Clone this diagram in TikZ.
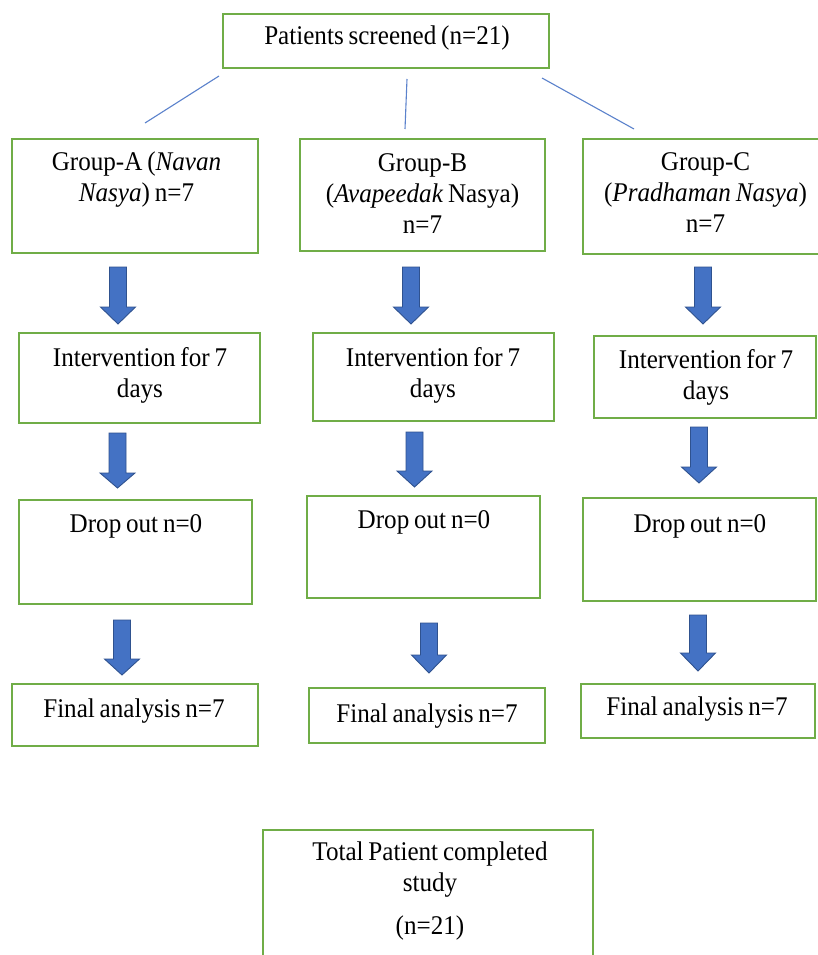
\documentclass[tikz,border=0pt]{standalone}
\usepackage{fontspec}
\setmainfont{Liberation Serif}[FakeStretch=0.93]
\definecolor{boxgreen}{HTML}{70AD47}
\definecolor{arrfill}{HTML}{4472C4}
\definecolor{arrdraw}{HTML}{2F528F}
\definecolor{linkblue}{HTML}{5B82CC}
\newcommand{\blockdownarrow}[4]{%
  % #1 = x centre, #2 = shaft top, #3 = head start, #4 = tip
  \draw[blockarr] (#1-8.5,#2) -- (#1+8.5,#2) -- (#1+8.5,#3) -- (#1+17.5,#3)
    -- (#1,#4) -- (#1-17.5,#3) -- (#1-8.5,#3) -- cycle;}
\newcommand{\tightspaces}{\spaceskip=4.8pt\relax}
\begin{document}
\begin{tikzpicture}[x=1pt,y=-1pt,
  box/.style={draw=boxgreen, line width=1.5pt, rectangle, inner sep=0pt, outer sep=0pt},
  txt/.style={align=center, anchor=base, inner sep=0pt, text width=300pt,
    font=\fontsize{27}{31}\selectfont, execute at begin node=\tightspaces},
  link/.style={draw=linkblue, line width=1.1pt},
  blockarr/.style={fill=arrfill, draw=arrdraw, line width=0.9pt, line join=miter}]
\path[use as bounding box, clip] (0,0) rectangle (818,955);
\fill[white] (0,0) rectangle (818,955);

% boxes
\node[box, minimum width=326, minimum height=54] (top) at (386,41) {};
\node[box, minimum width=246, minimum height=114] (gA) at (135,196) {};
\node[box, minimum width=245, minimum height=112] (gB) at (422.5,195) {};
\node[box, minimum width=245, minimum height=115] (gC) at (705.5,196.5) {};
\node[box, minimum width=241, minimum height=90] (iA) at (139.5,378) {};
\node[box, minimum width=241, minimum height=88] (iB) at (433.5,377) {};
\node[box, minimum width=222, minimum height=82] (iC) at (705,377) {};
\node[box, minimum width=233, minimum height=104] (dA) at (135.5,552) {};
\node[box, minimum width=233, minimum height=102] (dB) at (423.5,547) {};
\node[box, minimum width=233, minimum height=103] (dC) at (699.5,549.5) {};
\node[box, minimum width=246, minimum height=62] (fA) at (135,715) {};
\node[box, minimum width=236, minimum height=55] (fB) at (427,715.5) {};
\node[box, minimum width=234, minimum height=54] (fC) at (698,711) {};
\node[box, minimum width=330, minimum height=150] (tot) at (428,905) {};

% texts
\node[txt] (ttop) at (387,45) {Patients screened (n=21)};
\node[txt] (tgA) at (136.5,170) {Group-A (\textit{Navan}\\\textit{Nasya}) n=7};
\node[txt] (tgB) at (422.5,171) {Group-B\\(\textit{Avapeedak} Nasya)\\n=7};
\node[txt] (tgC) at (705.5,170) {Group-C\\(\textit{Pradhaman Nasya})\\n=7};
\node[txt] (tiA) at (140,366) {Intervention for 7\\days};
\node[txt] (tiB) at (433,366) {Intervention for 7\\days};
\node[txt] (tiC) at (706,368) {Intervention for 7\\days};
\node[txt] (tdA) at (136,532) {Drop out n=0};
\node[txt] (tdB) at (424,528) {Drop out n=0};
\node[txt] (tdC) at (700,532) {Drop out n=0};
\node[txt] (tfA) at (134,717) {Final analysis n=7};
\node[txt] (tfB) at (427,722) {Final analysis n=7};
\node[txt] (tfC) at (697,715) {Final analysis n=7};
\node[txt] (ttot) at (430,860) {Total Patient completed\\study\\[12pt](n=21)};

% links from screening to groups
\coordinate (l1a) at (219,76);
\coordinate (l1b) at (145,123);
\coordinate (l2a) at (407,79);
\coordinate (l2b) at (405,129);
\coordinate (l3a) at (542,78);
\coordinate (l3b) at (634,129);
\draw[link] (l1a) -- (l1b);
\draw[link] (l2a) -- (l2b);
\draw[link] (l3a) -- (l3b);

% block arrows
\blockdownarrow{118}{267}{307}{324}
\blockdownarrow{411}{267}{307}{324}
\blockdownarrow{703}{267}{307}{324}
\blockdownarrow{117.5}{433}{473}{488}
\blockdownarrow{414.5}{432}{471}{487}
\blockdownarrow{699}{427}{467}{483}
\blockdownarrow{122}{620}{659}{675}
\blockdownarrow{429}{623}{655}{673}
\blockdownarrow{698}{615}{653}{671}
\end{tikzpicture}
\end{document}
